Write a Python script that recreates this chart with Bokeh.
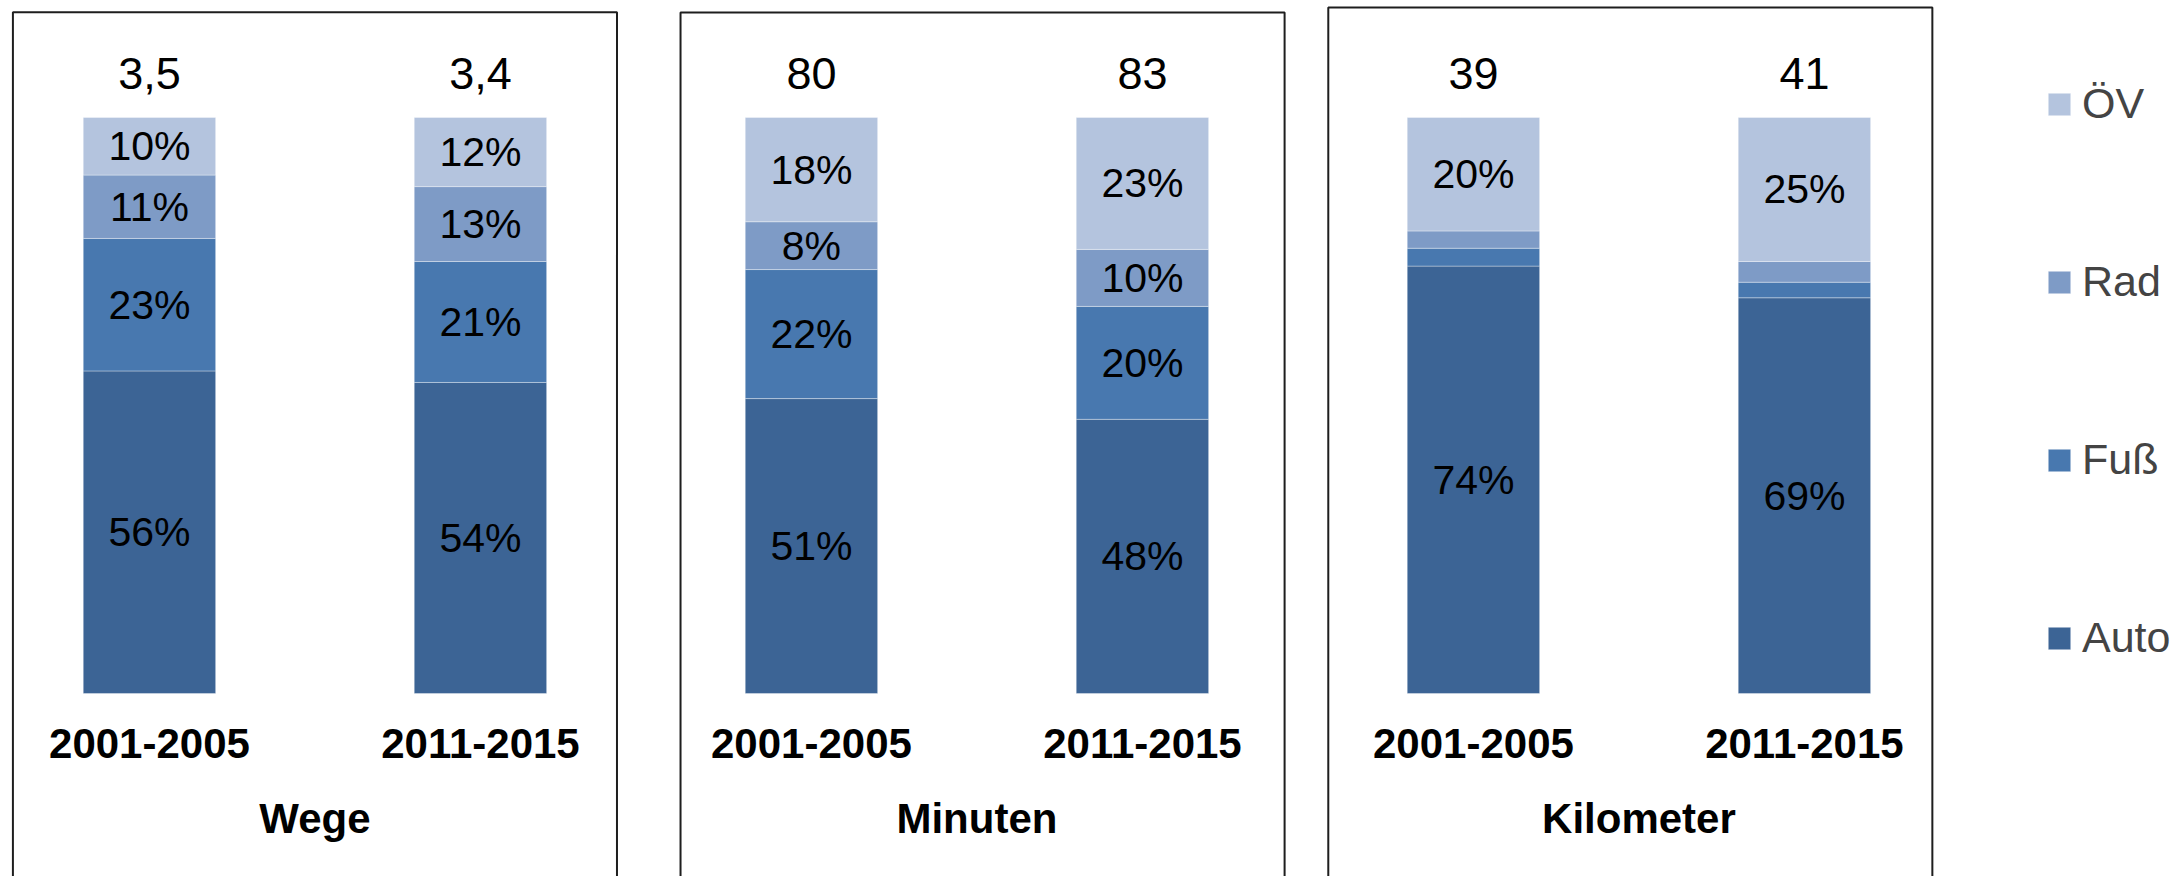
from bokeh.plotting import figure
from bokeh.models import Range1d, ColumnDataSource, Legend, LegendItem
from bokeh.core.properties import value
from bokeh.embed import file_html
from bokeh.resources import INLINE

# ---- data ----
panels = ["Wege", "Minuten", "Kilometer"]
periods = ["2001-2005", "2011-2015"]
totals = ["3,5", "3,4", "80", "83", "39", "41"]
modes = ["Auto", "Fuß", "Rad", "ÖV"]
auto = [56, 54, 51.2, 47.6, 74.2, 68.7]
fuss = [23, 21, 22.4, 19.6, 3.1, 2.7]
rad = [11, 13, 8.3, 9.9, 3.0, 3.6]
oev = [10, 12, 18.1, 22.9, 19.7, 25.0]

colors = ["#3C6495", "#4878AF", "#7E9BC6", "#B4C4DE"]
FONT = value("Liberation Sans")

xs = [2 * i + j for i in range(len(panels)) for j in range(len(periods))]
cats = [periods[j] for i in range(len(panels)) for j in range(len(periods))]
src = ColumnDataSource(dict(x=xs, auto=auto, fuss=fuss, rad=rad, oev=oev))

p = figure(width=2171, height=876,
           x_range=Range1d(-0.450, 6.109), y_range=Range1d(-31.77, 120.31),
           x_axis_type=None, y_axis_type=None,
           output_backend="svg", toolbar_location=None,
           min_border=0, outline_line_color=None)
p.grid.visible = False

renderers = p.vbar_stack(["auto", "fuss", "rad", "oev"], x="x", width=0.4,
                         color=colors, source=src,
                         line_color="white", line_alpha=0.35, line_width=1)

# percent labels inside segments
lx, ly, lt = [], [], []
series = [auto, fuss, rad, oev]
for k, x in enumerate(xs):
    base = 0
    for s in series:
        v = s[k]
        if v >= 5:
            lx.append(x)
            ly.append(base + v / 2)
            lt.append(f"{round(v)}%")
        base += v
p.text(x=lx, y=ly, text=lt, text_font=FONT, text_font_size="41px",
       text_align="center", text_baseline="middle", text_color="black")

# totals above bars
p.text(x=xs, y=[107.6] * len(xs), text=totals, text_font=FONT, text_font_size="45px",
       text_align="center", text_baseline="middle", text_color="black")

# period labels
p.text(x=xs, y=[-8.7] * len(xs), text=cats, text_font=FONT, text_font_size="42px",
       text_font_style="bold", text_align="center", text_baseline="middle", text_color="black")

# panel titles
pcx = [2 * i + 0.5 for i in range(len(panels))]
p.text(x=pcx, y=[-21.7] * len(panels), text=panels, text_font=FONT, text_font_size="42px",
       text_font_style="bold", text_align="center", text_baseline="middle", text_color="black")

# panel frames
offs = [0.0, 0.017, -0.026]
half = 1.825 / 2
tops = [118.28, 118.23, 119.10]
p.quad(left=[c + o - half for c, o in zip(pcx, offs)],
       right=[c + o + half for c, o in zip(pcx, offs)],
       top=tops, bottom=[-60] * 3,
       fill_color=None, line_color="#1e1e1e", line_width=2)

legend = Legend(items=[LegendItem(label=m, renderers=[r])
                       for m, r in reversed(list(zip(modes, renderers)))],
                location=(2045, 214), orientation="vertical",
                glyph_width=28, glyph_height=28, label_standoff=9,
                spacing=129, padding=0, margin=0, label_height=48,
                label_text_font="Liberation Sans", label_text_font_size="43px",
                border_line_color=None, background_fill_alpha=0)
p.add_layout(legend)

open("out.html", "w").write(file_html(p, INLINE))
